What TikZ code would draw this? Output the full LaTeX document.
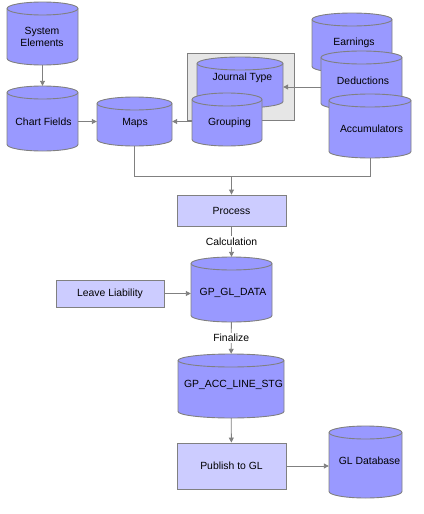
\documentclass[tikz,border=0pt]{standalone}
\usepackage{fontspec}
\setmainfont{Liberation Sans}
\usetikzlibrary{arrows.meta,calc}
\definecolor{dbfill}{HTML}{9999FF}
\definecolor{boxfill}{HTML}{CCCCFF}
\definecolor{lineg}{HTML}{808080}
\definecolor{grpfill}{HTML}{E6E6E6}
\def\dbRY{6.5}
\newcommand\dbcyl[8]{%
 \pgfmathsetmacro\dbRX{(#4-#2)/2}%
 \pgfmathsetmacro\dbCX{(#2+#4)/2}%
 \pgfmathsetmacro\dbCY{(#3+#5)/2}%
 \pgfmathsetmacro\dbW{#4-#2}%
 \pgfmathsetmacro\dbH{#5-#3}%
 \pgfmathsetmacro\dbYA{#3+\dbRY}%
 \pgfmathsetmacro\dbYB{#5-\dbRY}%
 \filldraw[dbshape] (#2,\dbYA) -- (#2,\dbYB) arc[start angle=180,end angle=360,x radius=\dbRX pt,y radius=\dbRY pt] -- (#4,\dbYA) arc[start angle=0,end angle=180,x radius=\dbRX pt,y radius=\dbRY pt] -- cycle;
 \draw[dbshape,fill=none] (#2,\dbYA) arc[start angle=180,end angle=360,x radius=\dbRX pt,y radius=\dbRY pt];
 \node[dbarea, minimum width=\dbW pt, minimum height=\dbH pt] (#1) at (\dbCX,\dbCY) {};
 \node[dbtext] (#1t) at (#6,#7) {#8};
}
\tikzset{
 every node/.style={font=\fontsize{10.4}{12}\selectfont},
 conn/.style={draw=lineg, line width=0.9pt},
 arr/.style={conn, -{Triangle[length=5pt,width=5pt]}},
 dbshape/.style={fill=dbfill, draw=lineg, line width=0.9pt},
 dbarea/.style={rectangle, draw=none, inner sep=0pt},
 dbtext/.style={inner sep=0pt, align=center},
 procbox/.style={rectangle, draw=lineg, fill=boxfill, line width=0.9pt, inner sep=0pt},
 grpbox/.style={rectangle, draw=lineg, fill=grpfill, line width=0.9pt, inner sep=0pt},
 lbl/.style={fill=white, inner sep=1.5pt},
}
\begin{document}
\begin{tikzpicture}[x=1pt,y=-1pt]
\useasboundingbox (0,0) rectangle (423,514);
% top-left cylinders
\dbcyl{sysel}{7}{2}{78}{65}{42}{37}{System\\Elements}
\dbcyl{chart}{7}{86}{78}{151}{43.5}{122}{Chart Fields}
\dbcyl{maps}{97}{97}{172}{146}{135}{123}{Maps}
% grouped box
\node[grpbox, minimum width=107pt, minimum height=67pt] (grp) at (240.5,86.5) {};
\dbcyl{jtype}{197}{57}{283}{108}{242.5}{78}{Journal Type}
\dbcyl{grouping}{192}{93}{262}{146}{229.5}{123}{Grouping}
% right stack
\dbcyl{earn}{312}{13}{392}{73}{354}{43}{Earnings}
\dbcyl{ded}{321}{51}{402}{110}{363}{81}{Deductions}
\dbcyl{acc}{329}{94}{411}{158}{371.5}{129}{Accumulators}
% process chain
\node[procbox, minimum width=109pt, minimum height=31pt] (proc) at (231.5,210.5) {Process};
\node[procbox, minimum width=108pt, minimum height=27pt] (leave) at (110,293.5) {Leave Liability};
\dbcyl{gldata}{191}{257}{272}{322}{233}{293}{GP\_GL\_DATA}
\dbcyl{accline}{178}{354}{284}{418}{233.5}{385}{GP\_ACC\_LINE\_STG}
\node[procbox, minimum width=109pt, minimum height=46pt] (publish) at (231.5,466) {Publish to GL};
\dbcyl{gldb}{329}{426}{402}{498}{369.5}{461}{GL Database}
% connectors
\draw[arr] (sysel) -- (chart);
\draw[arr] (chart.east |- maps) -- (maps.west);
\draw[arr] (grouping.west |- maps) -- (maps.east);
\draw[arr] ($(ded.west)+(0,6.5)$) -- ($(jtype.east |- ded.west)+(0,6.5)$);
\draw[conn] (maps.south) -- (maps.south |- 0,176) -| (acc.south);
\coordinate (jn) at (proc.north |- 0,176);
\draw[arr] (jn) -- (proc.north);
\draw[arr] (proc) -- node[lbl] (calc) {Calculation} (gldata);
\draw[arr] (leave.east) -- (leave.east -| gldata.west);
\draw[arr] (gldata) -- node[lbl] (fin) {Finalize} (accline);
\draw[arr] (accline) -- (publish);
\draw[arr] (publish.east) -- (publish.east -| gldb.west);
\end{tikzpicture}
\end{document}
